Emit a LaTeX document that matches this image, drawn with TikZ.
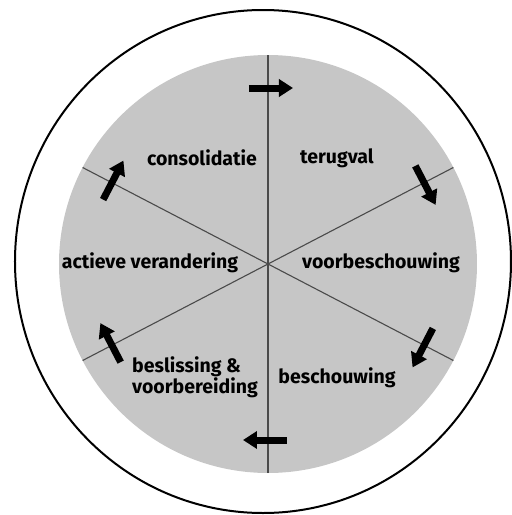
\documentclass[tikz,border=0pt]{standalone}
\usepackage{fontspec}
\setmainfont{Fira Sans}
\usepackage{tikz}
\usetikzlibrary{arrows.meta,calc}
\definecolor{DiscGrey}{HTML}{C6C6C6}
\definecolor{SpokeGrey}{HTML}{4A4A4A}

\begin{document}
\begin{tikzpicture}[
    x=1pt, y=1pt,
    phase/.style={font=\fontsize{19.5}{18}\selectfont\bfseries, inner sep=0pt},
    spoke/.style={draw=SpokeGrey, line width=1.1pt},
    turn/.style={line width=7pt, -{Triangle[length=14pt,width=17pt]}}
  ]
    \useasboundingbox (-268,-251) rectangle (244,264);
    \draw[line width=2pt] (-5,2.5) ellipse [x radius=248, y radius=251.5];
    \fill[DiscGrey] (0,0) circle (209);

    % spokes
    \foreach \a in {90,27.5,-27.5}
      \draw[spoke] (\a:209) -- (\a+180:209);

    % turning arrows
    \foreach \a [count=\i] in {90,27.5,-27.5,-90,207.5,152.5} {
      \coordinate (mid\i) at (\a:176);
      \coordinate (tail\i) at ($(mid\i)+(\a+90:19)$);
      \coordinate (tip\i) at ($(mid\i)+(\a-90:25)$);
      \draw[turn] (tail\i) -- (tip\i);
    }

    \node[phase] (consolidatie) at (-66,106) {consolidatie};
    \node[phase] (terugval) at (69,106) {terugval};
    \node[phase] (actief) at (-118,1) {actieve verandering};
    \node[phase] (voorbesch) at (113,1) {voorbeschouwing};
    \node[phase, align=left] (beslissing) at (-73,-113) {beslissing \&\\voorbereiding};
    \node[phase] (beschouwing) at (69,-114) {beschouwing};
  \end{tikzpicture}
\end{document}
